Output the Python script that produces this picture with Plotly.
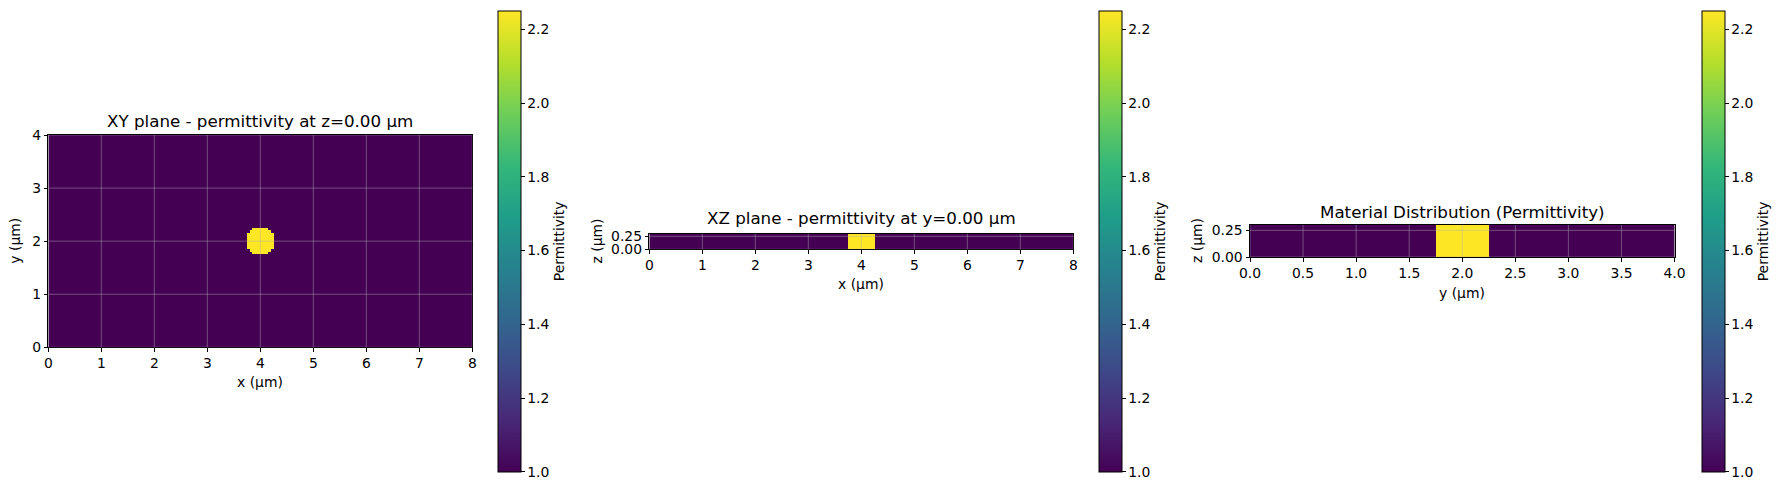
import numpy as np
import plotly.graph_objects as go

# ---------------- data ----------------
background_eps = 1.0          # surrounding medium permittivity
rod_eps = 2.25                # rod permittivity (n = 1.5)
cell = 0.05                   # grid resolution (µm)
x_extent = (0.0, 8.0)         # µm
y_extent = (0.0, 4.0)         # µm
z_extent = (0.0, 0.3)         # µm
rod_center = (4.0, 2.0)       # µm
# width (in cells) of each row of the rod cross-section in the XY slice, bottom to top
rod_row_widths = [6, 8, 10, 10, 10, 10, 10, 10, 8, 6]
rod_x_span = (3.75, 4.25)     # yellow block in XZ slice
rod_y_span = (1.75, 2.25)     # yellow block in YZ slice

cbar_ticks = [1.0, 1.2, 1.4, 1.6, 1.8, 2.0, 2.2]
xy_xticks = [0, 1, 2, 3, 4, 5, 6, 7, 8]
xy_yticks = [0, 1, 2, 3, 4]
z_ticks = [0.0, 0.25]
yz_yticks = [0.0, 0.5, 1.0, 1.5, 2.0, 2.5, 3.0, 3.5, 4.0]

titles = ["XY plane - permittivity at z=0.00 µm",
          "XZ plane - permittivity at y=0.00 µm",
          "Material Distribution (Permittivity)"]

# ---------------- build slices ----------------
nx = int(round((x_extent[1] - x_extent[0]) / cell))
ny = int(round((y_extent[1] - y_extent[0]) / cell))
nz = int(round((z_extent[1] - z_extent[0]) / cell))
xc = x_extent[0] + cell * (np.arange(nx) + 0.5)
yc = y_extent[0] + cell * (np.arange(ny) + 0.5)
zc = z_extent[0] + cell * (np.arange(nz) + 0.5)

xy = np.full((ny, nx), background_eps)
ci = int(round((rod_center[0] - x_extent[0]) / cell))
cj = int(round((rod_center[1] - y_extent[0]) / cell)) - len(rod_row_widths) // 2
for k, w in enumerate(rod_row_widths):
    xy[cj + k, ci - w // 2: ci + w // 2] = rod_eps

xz = np.full((nz, nx), background_eps)
xz[:, (xc > rod_x_span[0]) & (xc < rod_x_span[1])] = rod_eps
yz = np.full((nz, ny), background_eps)
yz[:, (yc > rod_y_span[0]) & (yc < rod_y_span[1])] = rod_eps

# ---------------- layout helpers ----------------
W, H = 1785, 490
def fx(p): return p / W
def fy(p): return 1 - p / H

FONT = "DejaVu Sans"
TICK = 13.9
TITLE = 16.7
GRID = "rgba(176,176,176,0.45)"

panels = [  # (left, right, top, bottom) in px
    (48.3, 472.3, 135.0, 347.3),
    (649.3, 1073.3, 233.7, 249.3),
    (1250.0, 1674.5, 225.0, 257.0),
]
cbar_left = [498.3, 1099.0, 1701.7]
cbar_top, cbar_bot = 10.7, 472.0

fig = go.Figure()
data = [(xc, yc, xy), (xc, zc, xz), (yc, zc, yz)]
for i, (xx, yy, zz) in enumerate(data):
    fig.add_trace(go.Heatmap(
        x=xx, y=yy, z=zz, colorscale="Viridis", zmin=background_eps, zmax=rod_eps,
        zsmooth=False, xaxis=f"x{i+1}", yaxis=f"y{i+1}", hoverinfo="skip",
        colorbar=dict(
            thickness=23.4, thicknessmode="pixels",
            len=(cbar_bot - cbar_top) / H, lenmode="fraction",
            x=fx(cbar_left[i]), xanchor="left", xpad=0,
            y=fy((cbar_top + cbar_bot) / 2), yanchor="middle", ypad=0,
            outlinewidth=1, outlinecolor="black",
            ticks="outside", ticklen=3.5, tickwidth=1, tickcolor="black",
            tickvals=cbar_ticks, tickformat=".1f",
            tickfont=dict(family=FONT, size=TICK, color="black"),
            title=dict(text="Permittivity", side="right",
                       font=dict(family=FONT, size=TICK, color="black")),
        ),
    ))

axis_common = dict(
    showline=True, linecolor="black", linewidth=1, mirror=True,
    ticks="outside", ticklen=3.5, tickwidth=1, tickcolor="black",
    showgrid=False, zeroline=False, layer="above traces",
    tickfont=dict(family=FONT, size=TICK, color="black"),
)

xranges = [x_extent, x_extent, y_extent]
yranges = [y_extent, z_extent, z_extent]
xtickv = [xy_xticks, xy_xticks, yz_yticks]
ytickv = [xy_yticks, z_ticks, z_ticks]
xfmt = ["d", "d", ".1f"]
yfmt = ["d", ".2f", ".2f"]
layout = {}
shapes = []
for i, (l, r, t, b) in enumerate(panels):
    layout[f"xaxis{i+1}"] = dict(axis_common, domain=[fx(l), fx(r)], range=list(xranges[i]),
                                 tickvals=xtickv[i], tickformat=xfmt[i], anchor=f"y{i+1}")
    layout[f"yaxis{i+1}"] = dict(axis_common, domain=[fy(b), fy(t)], range=list(yranges[i]),
                                 tickvals=ytickv[i], tickformat=yfmt[i], anchor=f"x{i+1}")
    # grid lines drawn above the heatmap (as in the reference)
    xa = "x" if i == 0 else f"x{i+1}"
    ya = "y" if i == 0 else f"y{i+1}"
    for v in xtickv[i]:
        shapes.append(dict(type="line", xref=xa, yref=f"{ya} domain", x0=v, x1=v, y0=0, y1=1,
                           line=dict(color=GRID, width=1), layer="above"))
    for v in ytickv[i]:
        shapes.append(dict(type="line", xref=f"{xa} domain", yref=ya, x0=0, x1=1, y0=v, y1=v,
                           line=dict(color=GRID, width=1), layer="above"))

ann = []
def add_text(text, x, y, size, angle=0):
    ann.append(dict(text=text, x=fx(x), y=fy(y), xref="paper", yref="paper",
                    xanchor="center", yanchor="middle", showarrow=False, textangle=angle,
                    font=dict(family=FONT, size=size, color="black")))

title_y = [121.0, 218.3, 211.7]
xlabel_y = [382.0, 284.0, 292.7]
ylabel_x = [15.5, 596.0, 1197.0]
xlabels = ["x (µm)", "x (µm)", "y (µm)"]
ylabels = ["y (µm)", "z (µm)", "z (µm)"]
for i, (l, r, t, b) in enumerate(panels):
    add_text(titles[i], (l + r) / 2, title_y[i], TITLE)
    add_text(xlabels[i], (l + r) / 2, xlabel_y[i], TICK)
    add_text(ylabels[i], ylabel_x[i], (t + b) / 2, TICK, angle=-90)

fig.update_layout(
    width=W, height=H, autosize=False,
    margin=dict(l=0, r=0, t=0, b=0, pad=0, autoexpand=False),
    paper_bgcolor="white", plot_bgcolor="white",
    font=dict(family=FONT, size=TICK, color="black"),
    showlegend=False, annotations=ann, shapes=shapes, **layout,
)

fig.write_html("out.html")
